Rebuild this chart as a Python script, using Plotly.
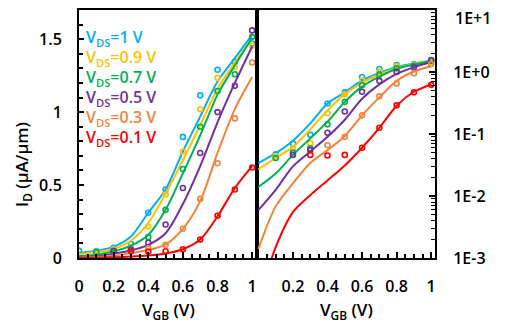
import plotly.graph_objects as go

# ---------------- data ----------------
vgb_line = [0.0, 0.1, 0.2, 0.3, 0.4, 0.5, 0.6, 0.7, 0.8, 0.9, 1.0]

labels = ["V<sub>DS</sub>=1 V", "V<sub>DS</sub>=0.9 V", "V<sub>DS</sub>=0.7 V",
          "V<sub>DS</sub>=0.5 V", "V<sub>DS</sub>=0.3 V", "V<sub>DS</sub>=0.1 V"]
colors = ["#00B0F0", "#FFC000", "#00B050", "#7030A0", "#F0843C", "#FF0000"]

# simulated curves (lines), uA/um
sim_1v  = [0.034, 0.049, 0.078, 0.148, 0.31, 0.47, 0.73, 0.97, 1.21, 1.37, 1.53]
sim_09v = [0.027, 0.041, 0.062, 0.119, 0.24, 0.44, 0.67, 0.91, 1.16, 1.34, 1.50]
sim_07v = [0.014, 0.023, 0.046, 0.085, 0.158, 0.33, 0.58, 0.84, 1.12, 1.32, 1.51]
sim_05v = [0.0059, 0.0125, 0.030, 0.052, 0.090, 0.17, 0.37, 0.63, 0.93, 1.20, 1.45]
sim_03v = [0.0014, 0.0068, 0.016, 0.034, 0.055, 0.093, 0.20, 0.39, 0.72, 1.02, 1.24]
sim_01v = [0.0002, 0.0015, 0.0055, 0.0103, 0.0178, 0.031, 0.060, 0.126, 0.286, 0.48, 0.63]

# measured points (markers)
meas_1v_x  = [0.0, 0.1, 0.2, 0.3, 0.4, 0.5, 0.6, 0.7, 0.8, 0.9, 1.0]
meas_1v_y  = [0.050, 0.047, 0.070, 0.097, 0.31, 0.47, 0.83, 1.115, 1.29, 1.345, 1.47]
meas_09v_x = [0.1, 0.2, 0.3, 0.4, 0.5, 0.6, 0.7, 0.8, 0.9, 1.0]
meas_09v_y = [0.044, 0.059, 0.071, 0.216, 0.435, 0.73, 1.02, 1.235, 1.31, 1.455]
meas_07v_x = [0.1, 0.2, 0.3, 0.4, 0.5, 0.6, 0.7, 0.8, 0.9, 1.0]
meas_07v_y = [0.041, 0.050, 0.059, 0.143, 0.33, 0.61, 0.90, 1.145, 1.26, 1.516]
meas_05v_x = [0.2, 0.3, 0.4, 0.5, 0.6, 0.7, 0.8, 0.9, 1.0]
meas_05v_y = [0.046, 0.055, 0.105, 0.23, 0.48, 0.72, 1.00, 1.18, 1.56]
meas_03v_x = [0.4, 0.5, 0.6, 0.7, 0.8, 0.9, 1.0]
meas_03v_y = [0.066, 0.09, 0.20, 0.405, 0.65, 0.957, 1.34]
meas_01v_x = [0.3, 0.4, 0.5, 0.6, 0.7, 0.8, 0.9, 1.0]
meas_01v_y = [0.046, 0.045, 0.046, 0.06, 0.126, 0.29, 0.47, 0.62]

left_ticks = [0, 0.2, 0.4, 0.6, 0.8, 1]
right_ticks = [0.2, 0.4, 0.6, 0.8, 1]
lin_ticks = [0, 0.5, 1, 1.5]
log_ticks = [1e-3, 1e-2, 1e-1, 1, 10]
log_ticktext = ["1E-3", "1E-2", "1E-1", "1E+0", "1E+1"]

sims = [sim_1v, sim_09v, sim_07v, sim_05v, sim_03v, sim_01v]
meas = [(meas_1v_x, meas_1v_y), (meas_09v_x, meas_09v_y), (meas_07v_x, meas_07v_y),
        (meas_05v_x, meas_05v_y), (meas_03v_x, meas_03v_y), (meas_01v_x, meas_01v_y)]

FONT = "Open Sans"

fig = go.Figure()
for sim, (mx, my), col in zip(sims, meas, colors):
    # left linear panel
    fig.add_trace(go.Scatter(x=vgb_line, y=sim, mode="lines",
                             line=dict(color=col, width=2, shape="spline", smoothing=0.8),
                             xaxis="x", yaxis="y", showlegend=False))
    fig.add_trace(go.Scatter(x=mx, y=my, mode="markers",
                             marker=dict(symbol="circle-open", size=5, color=col, line=dict(width=1.6)),
                             xaxis="x", yaxis="y", showlegend=False))
    # right log panel
    fig.add_trace(go.Scatter(x=vgb_line, y=sim, mode="lines",
                             line=dict(color=col, width=2, shape="spline", smoothing=0.8),
                             xaxis="x2", yaxis="y2", showlegend=False))
    rx = [a for a in mx if a > 0]
    ry = [b for a, b in zip(mx, my) if a > 0]
    fig.add_trace(go.Scatter(x=rx, y=ry, mode="markers",
                             marker=dict(symbol="circle-open", size=5, color=col, line=dict(width=1.6)),
                             xaxis="x2", yaxis="y2", showlegend=False))

tickfont = dict(family=FONT, size=16, color="black", weight=600)
axis_common = dict(showgrid=False, zeroline=False, showline=True, linecolor="black", linewidth=2,
                   mirror=True, ticks="inside", tickcolor="black", tickwidth=1.5, automargin=False,
                   ticklabeloverflow="allow")

# page is rendered inside a body with an 8px margin; sizes below compensate for that offset
annotations = []
leg_y = [38, 58, 78, 98, 118, 138]
for lab, col, py in zip(labels, colors, leg_y):
    annotations.append(dict(text=lab, x=(84 - 79) / 356, y=(258 - py) / 248, xref="paper", yref="paper",
                            xanchor="left", yanchor="middle", showarrow=False, height=20,
                            font=dict(family=FONT, size=16, color=col, weight=600)))
annotations.append(dict(text="I<sub>D</sub> (μA/μm)", x=(22 - 79) / 356, y=(258 - 165) / 248,
                        xref="paper", yref="paper", textangle=-90, showarrow=False,
                        xanchor="center", yanchor="middle",
                        font=dict(family=FONT, size=17, color="black", weight=600)))
for cx in [168, 346]:
    annotations.append(dict(text="V<sub>GB</sub> (V)", x=(cx - 79) / 356, y=(258 - 296) / 248,
                            xref="paper", yref="paper", showarrow=False,
                            xanchor="center", yanchor="top",
                            font=dict(family=FONT, size=17, color="black", weight=600)))
# top log label placed just below the top edge so it is not clipped
annotations.append(dict(text=log_ticktext[-1], x=(454 - 79) / 356, y=(258 - 18) / 248,
                        xref="paper", yref="paper", showarrow=False, borderpad=0,
                        xanchor="left", yanchor="middle", font=tickfont))

fig.update_layout(
    width=497, height=316,
    margin=dict(l=71, r=70, t=2, b=66, autoexpand=False),
    paper_bgcolor="white", plot_bgcolor="white",
    showlegend=False,
    xaxis=dict(domain=[0, 0.5], range=[0, 1.028], tickvals=left_ticks, ticktext=["0", "0.2", "0.4", "0.6", "0.8", "1"],
               ticklen=6, tickfont=tickfont, ticklabelstandoff=13,
               minor=dict(dtick=0.05, tick0=0, ticks="inside", ticklen=4, tickcolor="black", tickwidth=1.5),
               **axis_common),
    yaxis=dict(domain=[0, 1], range=[0, 1.7], tickvals=lin_ticks, ticktext=["0", "0.5", "1", "1.5"],
               ticklen=5, tickfont=tickfont, ticklabelstandoff=12,
               minor=dict(dtick=0.1, tick0=0, ticks="inside", ticklen=4, tickcolor="black", tickwidth=1.5),
               **axis_common),
    xaxis2=dict(domain=[0.5, 1], range=[-0.008, 1.022], anchor="y2", tickvals=right_ticks,
                ticktext=["0.2", "0.4", "0.6", "0.8", "1"],
                ticklen=6, tickfont=tickfont, ticklabelstandoff=13,
                minor=dict(dtick=0.05, tick0=0, ticks="inside", ticklen=4, tickcolor="black", tickwidth=1.5),
                **axis_common),
    yaxis2=dict(domain=[0, 1], type="log", range=[-3, 1], anchor="x2", side="right",
                tickvals=log_ticks, ticktext=log_ticktext[:-1] + [""], ticklen=6, tickfont=tickfont,
                ticklabelstandoff=13,
                minor=dict(tickvals=[m * 10 ** e for e in range(-3, 1) for m in range(2, 10)],
                           ticks="inside", ticklen=4, tickcolor="black", tickwidth=1.2),
                **axis_common),
    annotations=annotations,
)

fig.write_html("out.html")
